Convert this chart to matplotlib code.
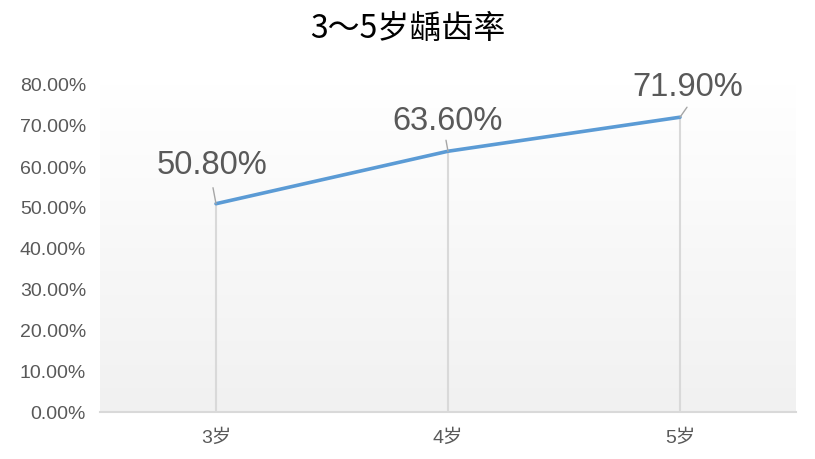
import matplotlib.pyplot as plt
import numpy as np

plt.rcParams['font.family'] = ['Liberation Sans', 'Noto Sans CJK SC', 'DejaVu Sans']

# data
ages = ['3岁', '4岁', '5岁']
rates = [0.508, 0.636, 0.719]
label_texts = ['50.80%', '63.60%', '71.90%']
yticks = [0.0, 0.1, 0.2, 0.3, 0.4, 0.5, 0.6, 0.7, 0.8]

fig = plt.figure(figsize=(8.15, 4.6), dpi=100)
ax = fig.add_axes([100 / 815, 47 / 460, 696 / 815, 328 / 460])

xs = np.arange(len(ages))
ax.set_xlim(-0.5, len(ages) - 0.5)
ax.set_ylim(0, 0.8)

# background gradient, white at top to light gray at bottom
grad = np.linspace(1.0, 0.0, 256).reshape(-1, 1)
ax.imshow(grad, extent=[-0.5, len(ages) - 0.5, 0, 0.8], aspect='auto',
          cmap=plt.matplotlib.colors.LinearSegmentedColormap.from_list(
              'bg', ['#f1f1f1', '#ffffff']),
          vmin=0, vmax=1, zorder=0)

# drop lines
ax.vlines(xs, 0, rates, color='#d9d9d9', lw=1.5, zorder=1)
ax.plot(xs, rates, color='#5b9bd5', lw=2.6, solid_capstyle='round', zorder=3)

# data labels with leader lines
text_off = [(-4, 39), (0, 31), (8, 31)]
lead_off = [(-3, 16), (-2, 11), (7, 10)]
for x, y, t, to, lo in zip(xs, rates, label_texts, text_off, lead_off):
    ax.annotate('', xy=(x, y), xytext=lo, textcoords='offset pixels',
                arrowprops=dict(arrowstyle='-', color='#a6a6a6', lw=1,
                                shrinkA=0, shrinkB=0), zorder=4)
    ax.annotate(t, xy=(x, y), xytext=to, textcoords='offset pixels',
                ha='center', va='center', fontsize=23.5, color='#595959',
                zorder=5)

ax.set_xticks(xs)
ax.set_xticklabels(ages)
ax.set_yticks(yticks)
ax.set_yticklabels(['%.2f%%' % (v * 100) for v in yticks])
ax.tick_params(axis='y', length=0, pad=10, labelsize=14, labelcolor='#595959')
ax.tick_params(axis='x', length=0, pad=12, labelsize=14, labelcolor='#595959')

for s in ['top', 'right', 'left']:
    ax.spines[s].set_visible(False)
ax.spines['bottom'].set_color('#d9d9d9')
ax.spines['bottom'].set_linewidth(1.5)

fig.text(408 / 815, 1 - 29 / 460, '3～5岁龋齿率', ha='center', va='center',
         fontsize=23, color='black', family=['Noto Sans CJK SC', 'DejaVu Sans'])

fig.savefig('out.png', dpi=100)
